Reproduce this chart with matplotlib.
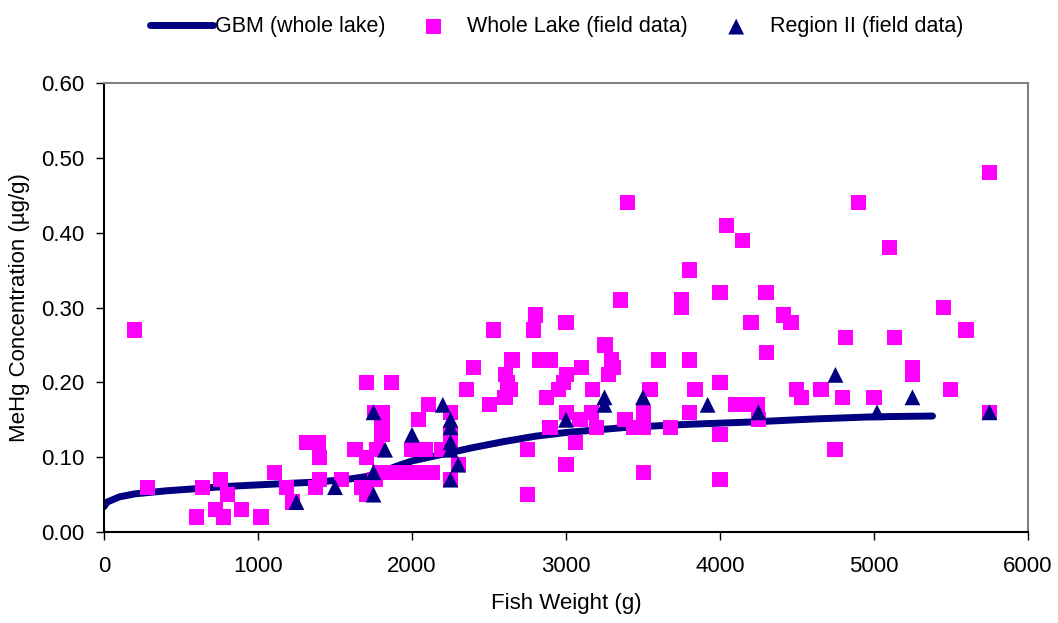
import numpy as np
import matplotlib.pyplot as plt

plt.rcParams['font.family'] = ['Liberation Sans', 'DejaVu Sans']

# GBM model curve (whole lake)
gbm_x = [0, 20, 100, 200, 400, 600, 800, 1000, 1200, 1400, 1600, 1700, 1800, 1900,
         2000, 2200, 2400, 2600, 2800, 3000, 3400, 3800, 4200, 4600, 5000, 5380]
gbm_y = [0.034, 0.040, 0.047, 0.051, 0.055, 0.058, 0.061, 0.063, 0.065, 0.067, 0.071,
         0.074, 0.080, 0.088, 0.095, 0.104, 0.113, 0.121, 0.128, 0.133, 0.140, 0.144,
         0.147, 0.151, 0.154, 0.155]

# whole lake field data
lake_x = [200, 280, 600, 640, 725, 755, 775, 800, 895, 1020, 1105, 1185, 1225, 1315,
          1390, 1400, 1375, 1400, 1540,
          1630, 1705, 1705, 1865, 1760, 1805, 1805, 1805, 1770, 1790, 1670, 1760, 1705,
          1870, 1955, 2040, 2130, 1998, 2085, 2040, 2105, 2190, 2250, 2250, 2250, 2300,
          2250,
          2355, 2400, 2505, 2530, 2605, 2620, 2636, 2604, 2650, 2790, 2800, 2830, 2896,
          2750, 2750, 2875, 2950, 2983, 3004, 3000, 3004, 3000, 2896, 3060, 3091, 3102,
          3166, 3173, 3199, 3253, 3275, 3297, 3307, 3355, 3383, 3400, 3437, 3502, 3502,
          3502, 3545, 3599, 3680, 3750, 3750, 3800, 3800, 3838, 3800,
          4000, 4000, 4000, 4000, 4043, 4104, 4147, 4152, 4201, 4240, 4249, 4299, 4303,
          4411, 4461, 4497, 4530, 4656, 4747, 4796, 4814, 4898, 5000, 5100, 5132, 5249,
          5249, 5450, 5498, 5597, 5749, 5749]
lake_y = [0.27, 0.06, 0.02, 0.06, 0.03, 0.07, 0.02, 0.05, 0.03, 0.02, 0.08, 0.06, 0.04, 0.12,
          0.12, 0.10, 0.06, 0.07, 0.07,
          0.11, 0.10, 0.20, 0.20, 0.16, 0.16, 0.14, 0.13, 0.11, 0.08, 0.06, 0.07, 0.05,
          0.08, 0.08, 0.08, 0.08, 0.11, 0.11, 0.15, 0.17, 0.11, 0.16, 0.13, 0.12, 0.09,
          0.07,
          0.19, 0.22, 0.17, 0.27, 0.21, 0.20, 0.19, 0.18, 0.23, 0.27, 0.29, 0.23, 0.23,
          0.11, 0.05, 0.18, 0.19, 0.20, 0.21, 0.28, 0.16, 0.09, 0.14, 0.12, 0.15, 0.22,
          0.16, 0.19, 0.14, 0.25, 0.21, 0.23, 0.22, 0.31, 0.15, 0.44, 0.14, 0.14, 0.16,
          0.08, 0.19, 0.23, 0.14, 0.31, 0.30, 0.35, 0.23, 0.19, 0.16,
          0.32, 0.20, 0.13, 0.07, 0.41, 0.17, 0.39, 0.17, 0.28, 0.17, 0.15, 0.32, 0.24,
          0.29, 0.28, 0.19, 0.18, 0.19, 0.11, 0.18, 0.26, 0.44, 0.18, 0.38, 0.26, 0.22,
          0.21, 0.30, 0.19, 0.27, 0.48, 0.16]

# region II field data
reg_x = [1250, 1500, 1750, 1750, 1750, 1825, 2000, 2200, 2250, 2250, 2250, 2250, 2300,
         2250, 3000, 3250, 3250, 3500, 3920, 4250, 4750, 5020, 5250, 5750]
reg_y = [0.04, 0.06, 0.16, 0.08, 0.05, 0.11, 0.13, 0.17, 0.15, 0.14, 0.12, 0.11, 0.09,
         0.07, 0.15, 0.18, 0.17, 0.18, 0.17, 0.16, 0.21, 0.16, 0.18, 0.16]

navy = '#000080'
magenta = '#FF00FF'

fig = plt.figure(figsize=(10.58, 6.23), dpi=100)
ax = fig.add_axes([0.0983, 0.146, 0.8733, 0.7208])

ax.plot(gbm_x, gbm_y, color=navy, lw=5, solid_capstyle='round',
        label='GBM (whole lake)', zorder=2)
ax.scatter(lake_x, lake_y, marker='s', s=120, color=magenta, edgecolors='none',
           label='Whole Lake (field data)', zorder=3)
ax.scatter(reg_x, reg_y, marker='^', s=130, color=navy, edgecolors='none',
           label='Region II (field data)', zorder=4)

ax.set_xlim(0, 6000)
ax.set_ylim(0, 0.6)
ax.set_xticks(np.arange(0, 6001, 1000))
ax.set_yticks(np.arange(0, 0.61, 0.1))
ax.set_yticklabels([f'{v:.2f}' for v in np.arange(0, 0.61, 0.1)])
ax.tick_params(labelsize=16, direction='out', length=6, width=1)
ax.tick_params(axis='x', pad=11)
ax.tick_params(axis='y', pad=8)
ax.set_xlabel('Fish Weight (g)', fontsize=16, labelpad=12)
ax.set_ylabel('MeHg Concentration (µg/g)', fontsize=16, labelpad=8)

for s in ['top', 'right']:
    ax.spines[s].set_color('#808080')
    ax.spines[s].set_linewidth(1.5)
for s in ['left', 'bottom']:
    ax.spines[s].set_color('black')
    ax.spines[s].set_linewidth(1.5)

fig.legend(loc='upper center', bbox_to_anchor=(0.526, 1.005), ncol=3, frameon=False,
           fontsize=15.5, handlelength=2.9, handletextpad=0.1, columnspacing=0.8)

fig.savefig('out.png', dpi=100)
